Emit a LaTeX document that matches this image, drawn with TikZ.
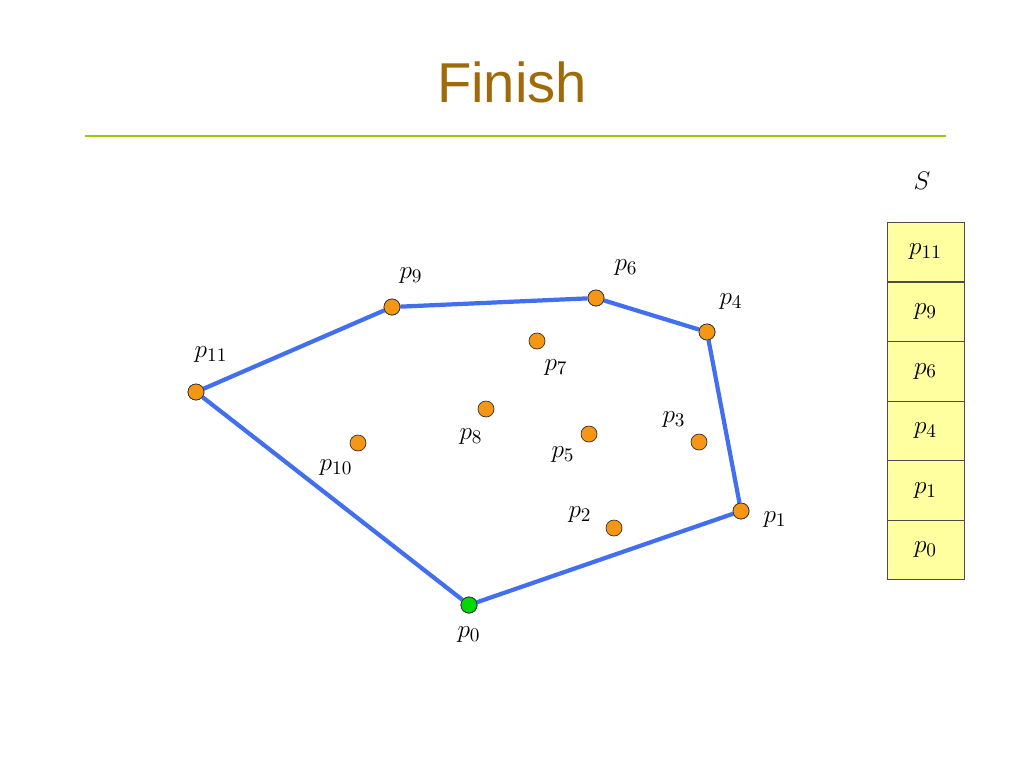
\documentclass[tikz,border=0pt]{standalone}
\usepackage{fontspec}
\newfontfamily\titlefont{Liberation Sans}
\definecolor{titlebrown}{RGB}{160,106,10}
\definecolor{rulegreen}{RGB}{153,204,0}
\definecolor{hullblue}{RGB}{66,110,240}
\definecolor{ptorange}{RGB}{245,150,20}
\definecolor{stackfill}{RGB}{255,255,160}
\begin{document}
\begin{tikzpicture}
  [
    x=0.02cm, y=-0.02cm,
    pt/.style={circle,draw=black!80,fill=ptorange,inner sep=0pt,minimum size=0.32cm,thin},
    lbl/.style={font=\fontsize{15}{18}\selectfont},
    cell/.style={draw=black!70,fill=stackfill,minimum width=1.54cm,minimum height=1.19cm,font=\fontsize{15}{18}\selectfont}
  ]
  \useasboundingbox (0,0) rectangle (1024,768);
  % title
  \node[font=\titlefont\fontsize{32}{36}\selectfont,text=titlebrown] (title) at (512,82) {Finish};
  \draw[rulegreen,line width=1.5pt] (85,136) -- (946,136);
  % points
  \foreach \n/\x/\y in {1/741/511,2/614/528,3/699/442,4/707/332,5/589/434,6/596/298,
                        7/537/341,8/486/409,9/392/307,10/358/443,11/196/392} {
    \node[pt] (p\n) at (\x,\y) {};
  }
  \node[pt,fill=green!85!black] (p0) at (469,605) {};
  % hull
  \draw[hullblue,line width=2.4pt,line join=round]
    (p0) -- (p1) -- (p4) -- (p6) -- (p9) -- (p11) -- (p0);
  \foreach \n in {0,1,4,6,9,11} { \node[pt] at (p\n) {}; }
  \node[pt,fill=green!85!black] at (p0) {};
  % labels
  \foreach \n/\x/\y in {0/469/635,1/775/520,2/580/515,3/674/420,4/731/302,5/563/455,
                        6/626/268,7/556/368,8/471/437,9/411/276,10/336/468,11/211/355} {
    \node[lbl] (l\n) at (\x,\y) {$p_{\n}$};
  }
  % stack
  \node[font=\fontsize{15}{18}\selectfont] (S) at (922,181) {$S$};
  \foreach \n/\i in {11/0,9/1,6/2,4/3,1/4,0/5} {
    \node[cell] (s\i) at (925.5,{252+\i*59.6}) {$p_{\n}$};
  }
\end{tikzpicture}
\end{document}
